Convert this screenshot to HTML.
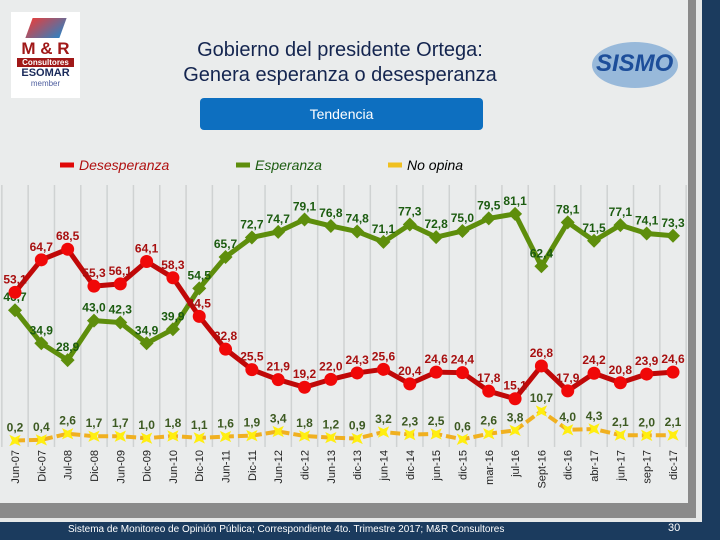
<!DOCTYPE html>
<html><head><meta charset="utf-8"><style>
body{margin:0;width:720px;height:540px;overflow:hidden;background:#e6e8e8;font-family:"Liberation Sans",sans-serif;position:relative}
.abs{position:absolute}
</style></head><body>
<div class="abs" style="left:0;top:0;width:688px;height:503px;background:#eaecec"></div>
<div class="abs" style="left:688px;top:0;width:8px;height:518px;background:#8a8a8a"></div>
<div class="abs" style="left:0;top:503px;width:696px;height:15px;background:#8a8a8a"></div>
<div class="abs" style="left:702px;top:0;width:18px;height:540px;background:#1b3b5e"></div>
<div class="abs" style="left:0;top:522px;width:720px;height:18px;background:#1b3b5e"></div>
<div class="abs" style="left:68px;top:524px;font-size:10px;color:#fff">Sistema de Monitoreo de Opinión Pública; Correspondiente 4to. Trimestre 2017; M&amp;R Consultores</div>
<div class="abs" style="left:668px;top:522px;font-size:11px;color:#fff">30</div>

<div class="abs" style="left:11px;top:12px;width:69px;height:86px;background:#fff;text-align:center;font-weight:bold">
 <div style="margin:6px auto 0;width:34px;height:20px;background:linear-gradient(135deg,#e04040,#3080c0);transform:skewX(-20deg)"></div>
 <div style="color:#a01818;font-size:17px;line-height:18px;margin-top:2px">M &amp; R</div>
 <div style="background:#a01818;color:#fff;font-size:8px;margin:0 6px">Consultores</div>
 <div style="color:#1a2a5a;font-size:11px">ESOMAR</div>
 <div style="color:#5060a0;font-size:8px;font-weight:normal">member</div>
</div>
<div class="abs" style="left:592px;top:42px;width:86px;height:46px;border-radius:50%;background:#8fb4d8;opacity:.9"></div>
<div class="abs" style="left:596px;top:50px;font-size:24px;font-weight:bold;color:#1d4e9a;font-style:italic">SISMO</div>

<div class="abs" style="left:90px;top:38px;width:500px;text-align:center;font-size:20px;line-height:25px;color:#14254f">Gobierno del presidente Ortega:<br>Genera esperanza o desesperanza</div>
<div class="abs" style="left:200px;top:98px;width:283px;height:32px;border-radius:4px;background:#0d6fc0;color:#fff;font-size:14px;text-align:center;line-height:32px">Tendencia</div>

<svg class="abs" style="left:0;top:0" width="720" height="540" id="chart"></svg>
<script>
const categories=["Jun-07","Dic-07","Jul-08","Dic-08","Jun-09","Dic-09","Jun-10","Dic-10","Jun-11","Dic-11","Jun-12","dic-12","Jun-13","dic-13","jun-14","dic-14","jun-15","dic-15","mar-16","jul-16","Sept-16","dic-16","abr-17","jun-17","sep-17","dic-17"];
const desesperanza=[53.1,64.7,68.5,55.3,56.1,64.1,58.3,44.5,32.8,25.5,21.9,19.2,22.0,24.3,25.6,20.4,24.6,24.4,17.8,15.1,26.8,17.9,24.2,20.8,23.9,24.6];
const esperanza=[46.7,34.9,28.9,43.0,42.3,34.9,39.9,54.5,65.7,72.7,74.7,79.1,76.8,74.8,71.1,77.3,72.8,75.0,79.5,81.1,62.4,78.1,71.5,77.1,74.1,73.3];
const noOpina=[0.2,0.4,2.6,1.7,1.7,1.0,1.8,1.1,1.6,1.9,3.4,1.8,1.2,0.9,3.2,2.3,2.5,0.6,2.6,3.8,10.7,4.0,4.3,2.1,2.0,2.1];
const svg=document.getElementById('chart');const NS='http://www.w3.org/2000/svg';
const x0=15,dx=26.32,y0=441,ky=2.8;
const X=i=>x0+i*dx, Y=v=>y0-v*ky;
function mk(t,a,p){const e=document.createElementNS(NS,t);for(const k in a)e.setAttribute(k,a[k]);(p||svg).appendChild(e);return e;}
const fmt=v=>v.toFixed(1).replace('.',',');
// grid
for(let i=0;i<=categories.length;i++){const g=mk('line',{x1:X(i)-dx/2,x2:X(i)-dx/2,y1:185,y2:447,stroke:'#cfd2d2','stroke-width':1.5});

}
categories.forEach((c,i)=>{const t=mk('text',{x:0,y:0,transform:`translate(${X(i)+4},450) rotate(-90)`,'text-anchor':'end','font-size':11,fill:'#222','font-family':'Liberation Sans'});t.textContent=c;

});
function series(vals,color,lw,name,labColor,marker){
 const pts=vals.map((v,i)=>X(i)+','+Y(v)).join(' ');
 const l=mk('polyline',{points:pts,fill:'none',stroke:color,'stroke-width':lw,'stroke-dasharray':marker==='star'?'10,4':'none'});
 
 
 vals.forEach((v,i)=>{let m;const x=X(i),y=Y(v);
  if(marker==='circle')m=mk('circle',{cx:x,cy:y,r:6.5,fill:'#f00808'});
  else if(marker==='diamond')m=mk('polygon',{points:`${x},${y-7} ${x+7},${y} ${x},${y+7} ${x-7},${y}`,fill:'#5e8e0c'});
  else{let p=[];for(let k=0;k<8;k++){const r=k%2?3:8,a=k*Math.PI/4+Math.PI/4;p.push((x+r*Math.cos(a))+','+(y+r*Math.sin(a)));}m=mk('polygon',{points:p.join(' '),fill:'#ffee10'});}
  
  
  const t=mk('text',{x:x,y:y-9,'text-anchor':'middle','font-size':12,'font-weight':'bold',fill:labColor,'font-family':'Liberation Sans'});t.textContent=fmt(v);
  
  });
}
series(noOpina,'#f0b020',4,'no-opina','#3d5a22','star');
series(esperanza,'#5e8e0c',5,'esperanza','#1c5c10','diamond');
series(desesperanza,'#c00808',5,'desesperanza','#a81010','circle');
// legend
function leg(x,color,label,tc,name){const g=mk('g',{});

mk('line',{x1:x,x2:x+14,y1:165,y2:165,stroke:color,'stroke-width':5},g);
const t=mk('text',{x:x+19,y:170,'font-size':14,'font-style':'italic',fill:tc,'font-family':'Liberation Sans'},g);t.textContent=label;}
leg(60,'#e00808','Desesperanza','#b01010','desesperanza');
leg(236,'#5e8e0c','Esperanza','#1c5c10','esperanza');
leg(388,'#f0c020','No opina','#000','no-opina');
</script>
</body></html>
